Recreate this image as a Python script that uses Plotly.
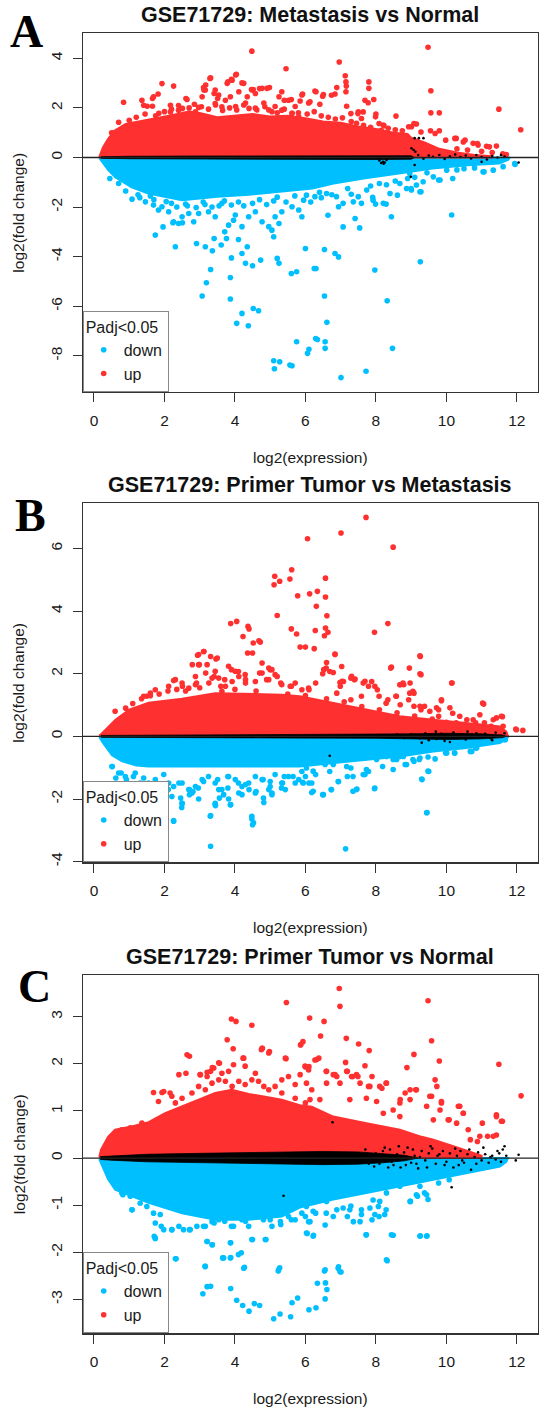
import plotly.graph_objects as go

RED = "#FF3030"
BLUE = "#00BFFF"
BLACK = "#000000"
FONT = "Liberation Sans"

X_TICKS = [0, 2, 4, 6, 8, 10, 12]
A_Y_TICKS = [-8, -6, -4, -2, 0, 2, 4]
B_Y_TICKS = [-4, -2, 0, 2, 4, 6]
C_Y_TICKS = [-3, -2, -1, 0, 1, 2, 3]

TITLES = ["GSE71729: Metastasis vs Normal",
          "GSE71729: Primer Tumor vs Metastasis",
          "GSE71729: Primer Tumor vs Normal"]
LETTERS = ["A", "B", "C"]
X_LABEL = "log2(expression)"
Y_LABEL = "log2(fold change)"
LEGEND_TITLE = "Padj<0.05"
LEGEND_NAMES = ["down", "up"]

# ---------------- Panel A ----------------
A_UP_ENV = [(0.15, 0.02), (0.25, 0.4), (0.4, 0.75), (0.6, 1.1), (0.9, 1.35), (1.3, 1.45), (1.7, 1.55),
            (2.2, 1.7), (2.7, 1.85), (3.0, 1.8), (3.5, 1.62), (4.0, 1.7), (4.5, 1.75), (5.0, 1.65),
            (5.5, 1.68), (6.0, 1.58), (6.5, 1.45), (7.0, 1.4), (7.5, 1.25), (8.0, 1.15), (8.5, 1.0),
            (8.9, 0.95), (9.0, 0.8), (9.4, 0.6), (9.8, 0.35), (10.3, 0.2), (10.8, 0.1), (11.3, 0.05)]
A_DOWN_ENV = [(0.15, -0.02), (0.26, -0.25), (0.4, -0.5), (0.6, -0.8), (1.07, -1.2), (1.54, -1.45),
              (2.0, -1.58), (2.5, -1.72), (3.0, -1.65), (3.5, -1.58), (4.4, -1.5), (5.3, -1.37),
              (6.2, -1.25), (6.8, -1.05), (7.7, -0.84), (8.7, -0.64), (9.6, -0.44), (10.6, -0.31),
              (11.5, -0.24), (11.75, -0.1), (11.8, -0.02)]
A_NS_BAND = [(0.2, 0.03), (1.0, 0.05), (3.0, 0.06), (5.0, 0.06), (7.0, 0.07), (8.0, 0.08), (9.0, 0.07), (9.1, 0.0)]
A_UP_PTS = [(4.48, 4.29), (9.48, 4.45), (6.96, 3.85), (5.45, 3.58), (4.02, 3.33), (3.31, 3.21), (3.80, 3.05),
            (3.90, 3.15), (4.20, 3.01), (1.93, 2.98), (2.26, 2.88), (7.13, 3.30), (7.15, 3.05), (7.16, 2.88),
            (7.15, 2.65), (7.80, 3.05), (7.80, 2.79), (7.94, 2.34), (7.78, 2.21), (9.56, 2.69), (11.49, 1.95),
            (12.11, 1.12), (0.84, 2.23), (9.56, 1.80), (9.80, 1.80), (11.42, 0.46), (8.57, 1.67), (8.21, 1.31),
            (3.11, 2.82), (3.16, 2.72), (3.41, 2.58), (3.51, 2.38), (4.47, 2.74), (4.52, 2.74), (4.70, 2.78),
            (4.98, 2.82), (5.25, 2.45), (5.40, 2.31), (5.60, 2.34), (5.85, 2.28), (5.92, 2.56), (6.27, 2.68),
            (6.51, 2.54), (6.84, 2.56), (6.13, 2.25), (6.41, 2.15), (6.89, 2.82), (7.69, 2.31), (2.61, 2.38),
            (2.51, 1.98), (1.66, 2.38), (1.36, 2.31), (1.51, 2.07), (9.01, 1.24), (9.15, 1.35), (9.28, 1.03),
            (9.55, 1.08), (9.80, 1.08), (10.24, 0.77), (10.48, 0.63), (10.76, 0.57), (10.90, 0.50),
            (11.14, 0.45), (9.68, 0.97), (9.98, 0.70), (7.17, 2.07), (7.50, 1.84), (7.64, 1.84), (8.0, 1.75),
            (7.59, 1.57), (8.09, 1.37), (10.3, 0.35), (10.6, 0.3), (11.0, 0.25), (11.3, 0.2), (11.6, 0.15),
            (11.7, 0.12), (0.5, 1.0), (0.7, 1.42), (1.0, 1.5), (1.2, 1.62), (1.45, 1.75), (1.75, 1.68),
            (2.0, 1.85), (2.2, 1.95), (2.4, 2.1), (2.7, 2.0), (2.85, 2.15), (3.05, 2.05), (3.25, 1.95),
            (3.45, 2.12), (3.65, 1.9), (3.85, 2.0), (4.05, 1.92), (4.25, 2.12), (4.4, 1.98), (4.62, 1.92),
            (4.85, 2.05), (5.05, 1.85), (5.2, 1.8), (5.4, 1.95), (5.62, 1.78), (5.8, 1.8), (6.05, 1.75),
            (6.25, 1.85), (6.45, 1.68), (6.65, 1.62), (6.85, 1.55), (7.05, 1.6), (7.3, 1.45), (7.45, 1.38),
            (7.65, 1.3), (7.85, 1.22), (8.15, 1.1), (8.35, 1.18), (8.55, 1.12), (8.75, 1.08),
            (0.56, 1.0), (1.41, 2.11), (1.69, 2.45), (1.66, 2.07), (1.82, 2.56), (1.84, 1.78), (2.17, 1.84),
            (2.40, 1.91), (2.50, 1.64), (2.69, 1.78), (2.88, 1.84), (2.97, 2.02), (2.17, 2.11), (2.64, 2.34),
            (3.07, 2.45), (3.12, 2.72), (3.17, 2.92), (3.29, 3.19), (3.44, 2.72), (3.54, 2.52), (3.73, 2.31),
            (3.87, 2.45), (3.44, 2.18), (3.63, 2.04), (3.78, 2.99), (3.92, 3.12), (4.04, 3.36), (4.25, 2.99),
            (4.11, 2.65), (4.35, 2.45), (4.49, 2.72), (4.58, 2.58), (4.77, 2.79), (4.91, 2.79), (4.02, 2.06),
            (4.30, 2.20), (4.58, 1.99), (4.82, 2.20), (4.96, 1.92), (5.14, 2.06), (5.33, 1.91), (5.52, 2.31),
            (5.71, 2.06), (5.90, 2.52), (6.09, 2.20), (5.33, 2.65), (5.62, 1.78), (5.81, 1.64),
            (6.30, 2.65), (6.49, 2.47), (6.74, 2.51), (7.29, 1.77), (7.49, 1.77), (7.99, 1.64), (8.23, 1.28),
            (8.93, 1.24), (9.08, 1.37), (10.28, 0.77), (10.53, 0.70), (10.88, 0.56), (11.22, 0.43)]
A_DOWN_PTS = [(11.95, -0.28), (10.15, -2.32), (9.26, -4.21), (8.47, -7.70), (8.32, -5.78), (7.72, -8.62),
              (7.97, -4.54), (7.01, -8.88), (6.94, -4.01), (6.84, -3.87), (6.56, -7.70), (6.56, -7.43),
              (6.61, -6.65), (6.54, -5.59), (6.54, -3.71), (6.29, -7.30), (6.34, -7.34), (6.10, -7.74),
              (6.06, -7.90), (5.75, -7.43), (5.56, -8.37), (5.62, -8.40), (5.10, -8.20), (5.27, -8.24),
              (5.12, -8.52), (5.60, -4.68), (5.75, -4.61), (6.25, -4.48), (6.30, -4.48), (6.00, -3.67),
              (5.20, -4.07), (5.25, -4.27), (4.73, -4.14), (4.50, -4.37), (4.30, -4.27), (4.35, -3.60),
              (4.20, -3.87), (4.10, -3.31), (3.90, -4.05), (3.87, -4.84), (3.87, -5.71), (3.31, -4.52),
              (3.19, -5.05), (3.07, -5.59), (4.52, -6.09), (4.67, -6.18), (4.20, -6.29), (4.05, -6.69),
              (4.38, -6.79), (2.31, -3.60), (1.74, -3.13), (1.08, -1.68), (1.96, -2.80), (2.24, -2.63),
              (2.51, -2.63), (2.91, -3.47), (3.16, -3.60), (3.36, -3.76), (3.61, -3.53), (3.41, -3.27),
              (3.71, -3.0), (3.76, -3.27), (3.96, -2.53), (5.05, -2.93), (5.10, -3.20), (5.25, -2.66),
              (7.07, -2.80), (7.54, -2.84), (7.41, -2.46), (6.64, -2.33), (6.94, -1.99), (8.44, -2.39),
              (8.29, -1.88), (7.99, -1.88), (7.91, -1.61), (8.61, -1.52), (9.0, -1.25), (9.28, -1.38),
              (8.96, -0.65), (9.78, -0.91), (10.18, -0.85), (11.07, -0.58),
              (1.46, -1.79), (1.69, -1.92), (1.83, -2.12), (1.93, -1.99), (2.12, -2.19), (2.26, -2.59),
              (2.40, -2.66), (2.50, -2.39), (2.69, -2.26), (2.83, -2.59), (2.97, -2.26), (3.25, -2.19),
              (3.44, -2.39), (3.63, -1.85), (3.82, -2.73), (4.01, -2.32), (4.20, -2.79), (4.39, -2.39),
              (4.58, -2.19), (4.77, -2.59), (4.96, -2.79), (5.14, -2.39), (5.33, -2.19), (5.62, -1.99),
              (5.81, -2.12), (5.90, -2.39),
              (6.03, -1.52), (6.27, -1.58), (6.60, -1.45), (6.88, -1.58), (7.07, -1.85), (7.36, -1.79),
              (7.50, -1.58), (7.59, -1.85), (7.74, -1.31), (7.92, -1.72), (8.21, -1.85), (8.40, -1.45),
              (8.68, -1.05), (8.87, -1.25), (9.01, -1.31), (9.15, -1.11), (9.25, -1.38), (9.34, -0.98),
              (9.63, -0.78), (9.82, -0.91), (10.01, -0.51), (11.04, -0.58), (11.33, -0.51), (11.61, -0.37),
              (11.94, -0.24),
              (0.45, -0.85), (0.7, -1.05), (0.9, -1.35), (1.25, -1.5), (1.7, -1.7), (2.2, -1.85),
              (2.65, -1.95), (3.15, -1.9), (3.7, -1.75), (4.1, -1.8), (4.7, -1.7), (5.2, -1.6), (5.7, -1.55),
              (6.4, -1.4), (7.2, -1.25), (8.1, -1.05), (8.9, -0.85), (10.3, -0.5), (10.8, -0.42),
              (1.3, -1.62), (1.6, -1.55), (2.05, -1.78), (2.35, -2.0), (2.6, -1.88), (2.9, -2.02), (3.1, -1.8),
              (3.35, -2.0), (3.55, -1.95), (3.9, -1.92), (4.25, -1.95), (4.5, -1.85), (4.9, -1.9), (5.1, -1.75),
              (5.45, -1.8), (5.95, -1.72), (6.15, -1.8), (6.45, -1.62), (6.75, -1.5), (7.3, -1.48),
              (7.85, -1.15), (8.3, -1.1), (8.55, -0.95), (9.1, -0.8), (9.45, -0.62), (10.5, -0.45)]
A_NS_PTS = [(8.1, -0.12), (8.2, -0.17), (8.25, -0.2), (8.3, -0.1), (9.01, 0.37), (9.07, 0.3), (9.12, 0.23),
            (9.1, 0.78), (9.22, 0.78), (9.35, 0.78), (9.2, 0.1), (9.35, -0.05), (9.5, 0.08), (9.62, 0.03),
            (9.8, 0.1), (9.95, -0.06), (10.1, 0.05), (10.25, 0.12), (10.4, 0.02), (10.55, 0.08), (10.7, -0.04),
            (10.85, 0.1), (11.0, 0.02), (11.15, -0.08), (11.3, 0.06), (11.45, 0.0), (11.55, 0.1), (11.65, 0.04),
            (8.99, -0.78), (11.0, -0.17), (12.05, -0.2), (9.1, -0.3), (8.15, -0.22), (8.22, -0.25)]

# ---------------- Panel B ----------------
B_UP_ENV = [(0.15, 0.02), (0.23, 0.1), (0.61, 0.53), (1.0, 0.85), (1.55, 1.07), (2.5, 1.2), (3.44, 1.38),
            (4.4, 1.35), (5.33, 1.33), (5.84, 1.28), (6.79, 1.07), (7.73, 0.85), (8.68, 0.64), (9.63, 0.53),
            (10.57, 0.43), (11.52, 0.32), (11.7, 0.15), (11.75, 0.02)]
B_DOWN_ENV = [(0.15, -0.02), (0.25, -0.2), (0.51, -0.6), (0.8, -0.8), (1.2, -0.93), (1.55, -0.96),
              (5.84, -0.96), (6.79, -0.85), (7.73, -0.74), (8.68, -0.64), (9.63, -0.48), (10.57, -0.37),
              (11.52, -0.21), (11.7, -0.1), (11.75, -0.02)]
B_NS_BAND = [(0.2, 0.03), (2.0, 0.04), (5.0, 0.05), (8.0, 0.06), (9.0, 0.08), (10.0, 0.1), (11.0, 0.08),
             (11.6, 0.04), (11.7, 0.0)]
B_UP_PTS = [(7.72, 6.99), (7.01, 6.49), (6.06, 6.31), (8.49, 6.04), (5.61, 5.32), (5.13, 5.11), (5.11, 4.84),
            (5.27, 4.95), (5.56, 5.02), (6.57, 5.05), (5.78, 4.49), (6.12, 4.55), (6.34, 4.63), (6.57, 4.45),
            (6.31, 4.15), (6.61, 3.85), (5.20, 3.86), (3.88, 3.60), (4.05, 3.67), (4.37, 3.51), (4.40, 3.43),
            (4.23, 3.19), (4.52, 2.98), (4.68, 3.05), (4.72, 3.01), (4.36, 2.66), (4.50, 2.66), (5.60, 3.43),
            (5.75, 3.27), (6.28, 3.38), (6.57, 3.46), (6.64, 3.32), (6.54, 3.21), (5.85, 2.85), (6.00, 2.85),
            (6.25, 2.80), (6.84, 2.63), (8.34, 3.60), (7.96, 3.32), (9.26, 2.55), (8.95, 2.18), (9.28, 1.97),
            (8.44, 2.21), (10.16, 1.70), (11.06, 1.03), (9.86, 1.14), (11.59, 0.63), (11.42, 0.59),
            (11.97, 0.23), (12.17, 0.19), (3.11, 2.71), (2.94, 2.59), (2.99, 2.29), (3.31, 2.55), (3.46, 2.47),
            (2.79, 2.29), (2.26, 1.78), (1.49, 1.28), (6.59, 2.18), (6.69, 2.07), (6.49, 2.0), (6.99, 1.6),
            (7.04, 1.76), (7.29, 1.86), (7.39, 1.81), (7.69, 1.76), (7.79, 1.6), (8.04, 1.49), (8.09, 1.28),
            (8.69, 1.65), (8.79, 1.65), (8.57, 1.28), (8.34, 1.17), (9.08, 1.38), (8.93, 1.17), (9.38, 0.96),
            (9.53, 0.8), (9.78, 0.85), (4.30, 1.70), (4.10, 2.07), (3.90, 2.13), (4.30, 1.81), (4.70, 2.02),
            (5.0, 2.13), (4.90, 1.81), (5.20, 1.91), (5.30, 1.70), (10.18, 0.74), (10.38, 0.64), (10.58, 0.53),
            (10.83, 0.43), (10.28, 0.43), (2.51, 1.60), (2.91, 1.70), (3.41, 1.91), (3.71, 1.81), (5.60, 1.60),
            (6.10, 1.49), (6.29, 1.70), (6.89, 1.38), (7.29, 1.17), (7.59, 1.28), (8.29, 1.06), (8.69, 1.01),
            (9.08, 0.96), (9.28, 0.85), (9.78, 0.64), (11.27, 0.32), (11.08, 0.43),
            (0.6, 0.8), (0.9, 0.9), (1.1, 1.05), (1.35, 1.2), (1.6, 1.3), (1.85, 1.35), (2.1, 1.45),
            (2.35, 1.5), (2.6, 1.45), (3.0, 1.55), (3.6, 1.6), (4.0, 1.5), (4.6, 1.45), (5.5, 1.35),
            (6.0, 1.3), (6.6, 1.2), (7.1, 1.1), (7.6, 0.95), (8.1, 0.85), (8.6, 0.75), (9.1, 0.65),
            (9.6, 0.55), (10.0, 0.45), (10.5, 0.38), (11.0, 0.3), (11.4, 0.25),
            (2.97, 2.61), (3.12, 2.71), (3.50, 2.50), (2.97, 2.29), (3.21, 2.29), (2.88, 1.91), (3.17, 2.02),
            (3.35, 1.86), (3.26, 1.70), (3.44, 2.08), (3.54, 1.86), (2.31, 1.81), (2.50, 1.70), (2.69, 1.54),
            (2.88, 1.65), (1.74, 1.49), (1.60, 1.38), (1.41, 1.28), (2.12, 1.60), (3.82, 2.24), (4.01, 2.08),
            (4.11, 1.91), (3.92, 1.75), (3.73, 1.60), (3.63, 1.44), (4.29, 1.97), (4.58, 1.75), (4.77, 2.02),
            (4.96, 1.81), (5.05, 2.13), (5.14, 1.97), (5.33, 1.65), (5.57, 1.60), (5.71, 1.70), (5.90, 1.49),
            (6.09, 1.54), (4.77, 2.34), (4.96, 2.18), (6.84, 2.61), (6.60, 2.36), (7.03, 2.23), (6.52, 2.13),
            (6.79, 2.04), (9.25, 2.57), (9.25, 2.0), (8.42, 2.18), (8.97, 1.70), (10.15, 1.70), (11.03, 1.06),
            (11.56, 0.64), (11.99, 0.21), (7.31, 1.92), (7.41, 1.83), (6.98, 1.72), (7.08, 1.75), (7.64, 1.70),
            (7.88, 1.75), (7.97, 1.60), (8.68, 1.65), (8.77, 1.70), (8.58, 1.28), (8.96, 1.38), (9.05, 1.44),
            (9.86, 1.17), (9.25, 0.96), (9.72, 0.91), (10.10, 0.91), (10.76, 0.53), (10.95, 0.69),
            (11.33, 0.53), (11.61, 0.32)]
B_DOWN_PTS = [(3.56, -1.97), (3.68, -1.86), (3.88, -2.18), (4.82, -2.11), (5.05, -1.86), (4.30, -1.54),
              (4.40, -1.70), (4.60, -1.76), (4.20, -1.86), (6.18, -1.79), (6.49, -1.86), (6.73, -1.70),
              (7.46, -1.68), (7.96, -1.67), (5.32, -1.65), (5.35, -1.49), (5.92, -1.47), (6.94, -1.44),
              (7.19, -1.28), (7.79, -1.12), (7.69, -1.22), (8.83, -0.90), (9.08, -0.80), (9.23, -0.74),
              (9.68, -0.72), (9.98, -0.53), (10.23, -0.53), (10.68, -0.48), (10.83, -0.37), (11.22, -0.16),
              (11.67, -0.11), (0.52, -0.96), (0.77, -1.17), (0.62, -1.33), (0.92, -1.38), (1.12, -1.28),
              (1.31, -1.49), (1.61, -1.60), (1.91, -1.54), (2.11, -1.70), (2.41, -1.49), (2.71, -1.70),
              (2.96, -1.65), (3.11, -1.44), (3.51, -1.38), (3.80, -1.28), (2.46, -1.97), (2.81, -1.76),
              (2.71, -1.86), (4.50, -2.82), (4.48, -2.64), (3.31, -2.53), (3.45, -2.21), (3.31, -3.51),
              (7.14, -3.59), (9.45, -2.43), (9.31, -1.38), (9.50, -1.12), (2.26, -2.69), (2.49, -2.27),
              (1.96, -3.32), (5.90, -1.12), (5.65, -1.28), (6.10, -1.49), (5.0, -1.44), (4.80, -1.38),
              (4.10, -1.49), (3.80, -1.65), (5.0, -1.60), (5.40, -1.28), (6.29, -1.22), (6.69, -1.12),
              (7.29, -1.01), (8.19, -0.96), (8.49, -1.06), (8.59, -0.74), (8.78, -0.64),
              (0.51, -0.96), (0.70, -1.17), (0.89, -1.28), (1.17, -1.17), (1.41, -1.33), (1.55, -1.49),
              (1.74, -1.38), (1.98, -1.22), (2.12, -1.49), (2.26, -1.60), (2.50, -1.49), (2.69, -1.70),
              (2.88, -1.60), (3.07, -1.38), (3.25, -1.28), (3.44, -1.49), (3.63, -1.70), (3.82, -1.28),
              (4.01, -1.38), (4.20, -1.60), (4.39, -1.49), (4.58, -1.28), (4.77, -1.38), (4.96, -1.70),
              (5.14, -1.22), (5.33, -1.49), (5.52, -1.28), (5.81, -1.38), (6.00, -1.28), (6.18, -1.49),
              (2.21, -1.92), (2.50, -2.14), (2.78, -1.81), (2.97, -2.0), (3.44, -2.14), (3.54, -1.70),
              (3.82, -2.0), (4.11, -1.81), (4.58, -1.81), (4.81, -1.97), (5.05, -1.81), (5.43, -1.70),
              (5.71, -1.49), (2.26, -2.71), (2.50, -2.14), (3.30, -2.55), (3.44, -2.18), (4.48, -2.55),
              (4.53, -2.76), (3.87, -2.18),
              (5.94, -1.49), (6.22, -1.75), (6.51, -1.86), (6.74, -1.70), (7.35, -1.75), (7.45, -1.70),
              (7.97, -1.65), (6.93, -1.44), (7.35, -1.28), (7.64, -1.22), (7.73, -1.06), (7.17, -0.96),
              (6.79, -0.90), (6.56, -0.90), (6.22, -1.11), (6.03, -1.01), (9.30, -1.36), (9.48, -1.11),
              (9.44, -2.44), (8.87, -0.90), (9.05, -0.74), (9.25, -0.69), (9.48, -0.66), (10.01, -0.53),
              (10.24, -0.53), (10.72, -0.48), (10.86, -0.37), (11.23, -0.12), (11.66, -0.10), (8.02, -0.74),
              (8.30, -0.64), (8.49, -0.74), (8.68, -0.64)]
B_NS_PTS = [(6.69, -0.62), (9.1, 0.05), (9.25, -0.06), (9.4, 0.1), (9.5, -0.12), (9.6, 0.04), (9.72, -0.08),
            (9.85, 0.08), (9.95, -0.15), (10.05, 0.03), (10.2, 0.12), (10.3, -0.05), (10.45, 0.07),
            (10.55, -0.1), (10.7, 0.05), (10.85, 0.1), (10.95, -0.04), (11.1, 0.08), (11.25, -0.06),
            (11.4, 0.12), (11.55, 0.02), (11.65, 0.1), (9.3, -0.2), (8.6, 0.06), (8.8, -0.05), (9.0, 0.07),
            (9.7, 0.15), (10.1, -0.18), (10.6, 0.15), (11.3, -0.12)]

# ---------------- Panel C ----------------
C_UP_ENV = [(0.15, 0.02), (0.2, 0.18), (0.4, 0.45), (0.6, 0.6), (1.07, 0.67), (1.55, 0.76), (2.02, 0.95),
            (2.5, 1.09), (2.97, 1.24), (3.44, 1.38), (3.91, 1.45), (4.39, 1.36), (5.33, 1.24), (5.84, 1.12),
            (6.18, 1.09), (6.79, 0.88), (7.73, 0.74), (8.68, 0.6), (9.3, 0.45), (9.63, 0.39), (10.2, 0.25),
            (10.6, 0.15), (11.0, 0.05)]
C_DOWN_ENV = [(0.15, -0.02), (0.25, -0.2), (0.4, -0.45), (0.6, -0.67), (1.07, -0.81), (1.55, -0.95),
              (2.5, -1.17), (3.44, -1.31), (4.39, -1.31), (5.33, -1.24), (5.84, -1.05), (6.79, -0.88),
              (7.73, -0.74), (8.68, -0.60), (9.63, -0.46), (10.57, -0.32), (11.52, -0.18), (11.7, -0.08),
              (11.75, -0.02)]
C_NS_BAND = [(0.18, 0.03), (0.6, 0.05), (1.5, 0.08), (3.0, 0.1), (5.0, 0.12), (6.5, 0.14), (7.5, 0.13),
             (8.2, 0.1), (8.8, 0.06), (9.2, 0.0)]
C_UP_PTS = [(6.96, 3.60), (6.98, 3.22), (5.46, 3.30), (9.48, 3.34), (3.90, 2.95), (4.03, 2.90), (6.12, 2.97),
            (6.53, 2.90), (4.48, 2.82), (6.43, 2.59), (9.58, 2.49), (7.16, 2.54), (7.51, 2.42), (3.78, 2.51),
            (4.78, 2.33), (4.75, 2.30), (4.98, 2.26), (5.93, 2.47), (5.86, 2.40), (3.95, 2.32), (7.81, 2.28),
            (2.64, 2.19), (2.71, 2.16), (9.08, 2.20), (9.80, 2.06), (11.49, 1.99), (8.88, 1.92), (12.12, 1.32),
            (5.45, 2.11), (4.23, 2.12), (3.36, 1.92), (3.56, 2.01), (3.31, 1.84), (2.41, 1.77), (2.61, 1.80),
            (3.01, 1.77), (3.21, 1.73), (6.38, 2.12), (6.27, 2.08), (6.10, 1.94), (6.0, 1.93), (6.59, 1.84),
            (6.84, 1.77), (6.89, 1.73), (7.14, 2.03), (7.19, 1.84), (7.34, 1.73), (7.49, 1.73), (7.69, 1.96),
            (7.89, 1.73), (7.79, 1.52), (8.29, 1.59), (8.17, 1.48), (9.13, 1.45), (8.83, 1.38), (8.69, 1.24),
            (9.86, 1.17), (10.38, 1.10), (10.08, 0.81), (10.48, 0.95), (11.02, 0.74), (11.42, 0.92),
            (11.59, 0.78), (11.42, 0.49), (9.68, 1.66), (9.73, 1.52), (9.58, 1.31), (1.69, 1.39), (1.93, 1.39),
            (2.16, 1.38), (2.21, 1.31), (10.88, 0.35), (10.68, 0.39), (11.17, 0.46),
            (3.02, 1.77), (3.21, 1.82), (3.40, 1.91), (3.54, 2.02), (3.63, 1.80), (3.82, 1.84), (3.96, 1.98),
            (4.25, 2.12), (4.29, 1.95), (4.58, 1.80), (4.77, 2.33), (4.96, 2.23), (5.43, 2.12), (5.87, 2.41),
            (1.98, 1.41), (1.83, 1.20), (2.31, 1.17), (2.50, 1.27), (2.78, 1.38), (2.97, 1.52), (3.16, 1.45),
            (3.35, 1.59), (3.54, 1.66), (3.73, 1.63), (3.92, 1.52), (4.11, 1.63), (4.29, 1.56), (4.48, 1.66),
            (4.67, 1.63), (4.82, 1.52), (4.96, 1.45), (5.14, 1.52), (5.33, 1.66), (5.52, 1.73), (5.71, 1.56),
            (5.85, 1.77), (6.09, 1.87), (6.18, 1.45), (5.33, 1.38), (5.71, 1.27), (6.00, 1.17),
            (0.79, 0.6), (1.03, 0.64), (1.36, 0.74), (0.60, 0.53),
            (5.99, 1.95), (6.32, 2.09), (6.60, 1.84), (6.79, 1.77), (7.17, 1.84), (7.31, 1.73), (7.45, 1.77),
            (6.60, 1.59), (6.98, 1.59), (7.55, 1.59), (7.83, 1.52), (8.11, 1.52), (8.30, 1.59), (8.97, 1.45),
            (9.15, 1.45), (8.68, 1.17), (8.97, 1.24), (9.53, 1.31), (9.86, 1.20), (10.34, 1.10), (10.48, 0.95),
            (10.62, 0.60), (10.95, 0.46), (11.42, 0.88), (11.56, 0.78), (11.33, 0.46), (6.03, 1.59),
            (6.13, 1.24), (6.41, 1.24), (7.73, 1.27), (7.26, 1.24), (8.02, 1.20), (8.21, 0.95), (8.49, 1.02),
            (8.68, 0.88), (9.44, 1.10), (9.82, 1.02), (10.05, 0.81), (10.29, 0.74), (9.63, 0.81)]
C_DOWN_PTS = [(5.10, -3.41), (5.28, -3.31), (5.58, -3.37), (4.40, -3.25), (4.22, -3.13), (4.05, -3.02),
              (4.55, -3.09), (4.70, -3.13), (3.09, -2.88), (3.21, -2.73), (3.31, -2.72), (3.88, -2.77),
              (5.62, -3.07), (5.78, -2.97), (6.10, -3.22), (6.30, -3.18), (6.56, -2.99), (6.61, -2.79),
              (6.57, -2.65), (6.34, -2.66), (6.54, -2.40), (5.23, -2.40), (5.27, -2.33), (6.94, -2.31),
              (7.01, -2.42), (3.15, -2.30), (4.27, -2.32), (2.31, -2.14), (3.65, -2.12), (3.88, -2.11),
              (4.18, -2.01), (3.88, -1.80), (3.21, -1.77), (3.36, -1.84), (4.50, -1.73), (4.88, -1.73),
              (8.32, -2.18), (8.49, -1.64), (7.72, -1.63), (9.26, -1.65), (9.45, -1.65), (6.05, -1.60),
              (6.23, -1.64), (1.71, -1.66), (1.74, -1.71), (1.08, -1.10), (0.54, -0.42), (0.72, -0.60),
              (0.82, -0.78), (1.91, -1.45), (2.21, -1.52), (2.41, -1.45), (2.71, -1.52),
              (3.11, -1.45), (3.41, -1.38), (3.71, -1.34), (3.90, -1.45), (4.30, -1.34), (4.70, -1.24),
              (5.0, -1.31), (5.30, -1.41), (5.60, -1.31), (6.0, -1.24), (6.29, -1.17), (6.59, -1.17),
              (6.89, -1.10), (7.19, -1.24), (7.29, -1.02), (7.59, -1.10), (7.89, -1.31), (8.09, -1.24),
              (8.29, -1.10), (8.98, -0.92), (9.18, -0.81), (9.38, -0.74), (9.48, -0.88), (9.78, -0.53),
              (10.08, -0.46), (10.28, -0.32), (10.68, -0.25), (11.08, -0.18),
              (0.56, -0.42), (0.65, -0.60), (0.79, -0.74), (1.03, -0.81), (1.08, -1.10), (1.31, -0.96),
              (1.50, -1.03), (1.69, -1.17), (1.88, -1.20), (1.74, -1.38), (1.98, -1.52), (2.21, -1.52),
              (2.54, -1.52), (2.73, -1.52), (2.92, -1.45), (3.16, -1.45), (3.35, -1.35), (3.54, -1.31),
              (3.82, -1.20), (3.96, -1.45), (4.20, -1.31), (4.39, -1.45), (4.58, -1.20), (4.81, -1.31),
              (5.05, -1.45), (5.29, -1.35), (5.52, -1.24), (5.71, -1.31), (5.90, -1.17), (6.09, -1.35),
              (1.74, -1.70), (3.21, -1.77), (3.35, -1.84), (3.87, -1.80), (4.48, -1.73), (4.86, -1.73),
              (2.33, -2.14), (3.16, -2.30), (3.68, -2.12), (3.87, -2.12), (4.10, -2.05), (4.25, -2.34),
              (5.24, -2.37),
              (6.03, -1.03), (6.22, -1.13), (6.13, -1.35), (6.60, -0.92), (6.79, -1.24), (7.07, -1.06),
              (7.26, -1.10), (7.36, -1.35), (7.55, -1.35), (7.59, -1.20), (7.83, -1.06), (7.97, -1.20),
              (8.07, -1.03), (8.25, -1.20), (7.92, -0.89), (8.11, -0.92), (8.30, -0.74), (8.68, -0.60),
              (9.15, -0.78), (9.44, -0.78), (9.25, -0.60), (8.97, -0.92), (6.03, -1.59), (6.22, -1.66),
              (6.56, -1.42), (7.73, -1.63), (8.44, -1.63), (9.25, -1.66), (9.44, -1.66), (8.30, -2.16),
              (6.56, -2.37), (6.93, -2.34), (6.98, -2.41)]
C_NS_PTS = [(8.0, 0.1), (8.1, -0.12), (8.2, 0.15), (8.3, -0.05), (8.4, 0.18), (8.5, -0.15), (8.6, 0.08),
            (8.7, -0.2), (8.8, 0.12), (8.9, 0.22), (9.0, -0.1), (9.1, 0.05), (9.2, -0.22), (9.3, 0.15),
            (9.4, -0.05), (9.5, 0.1), (9.6, 0.2), (9.7, -0.12), (9.8, 0.08), (9.9, 0.15), (10.0, -0.08),
            (10.1, 0.1), (10.2, -0.2), (10.3, 0.05), (10.4, 0.15), (10.5, -0.1), (10.6, 0.08), (10.7, -0.25),
            (10.8, 0.02), (10.9, 0.12), (11.0, -0.05), (11.1, 0.08), (11.2, -0.1), (11.3, 0.05), (11.4, -0.03),
            (11.5, 0.1), (11.6, 0.18), (11.7, 0.05), (11.97, -0.05), (12.05, 0.07), (10.15, -0.62),
            (6.77, 0.76), (5.38, -0.80), (7.5, 0.1), (7.8, -0.12), (6.5, 0.1), (7.2, -0.1),
            (7.7, 0.18), (7.95, -0.18), (8.25, 0.22), (8.45, -0.08), (8.65, 0.25), (8.85, -0.15), (9.05, 0.18),
            (9.25, 0.02), (9.45, -0.2), (9.55, 0.25), (9.75, 0.05), (9.95, -0.15), (10.25, 0.2), (10.45, -0.05),
            (10.65, 0.18), (10.85, -0.12), (11.05, 0.22), (11.25, 0.02), (11.45, 0.15), (11.55, -0.08),
            (11.65, 0.25), (10.35, -0.15), (9.15, -0.12), (8.35, -0.2)]

# ---------------- layout geometry ----------------
W, H = 550, 1414
X_DOMAIN = [82.7 / W, 538 / W]
PANELS = [
    dict(top=33.3, bottom=392.0, xr=[-0.32, 12.6], yr=[-9.46, 5.01], yt=A_Y_TICKS,
         up_env=A_UP_ENV, down_env=A_DOWN_ENV, band=A_NS_BAND, up=A_UP_PTS, down=A_DOWN_PTS, ns=A_NS_PTS,
         letter_xy=(26, 31)),
    dict(top=503.3, bottom=862.3, xr=[-0.32, 12.6], yr=[-4.02, 7.44], yt=B_Y_TICKS,
         up_env=B_UP_ENV, down_env=B_DOWN_ENV, band=B_NS_BAND, up=B_UP_PTS, down=B_DOWN_PTS, ns=B_NS_PTS,
         letter_xy=(30, 516)),
    dict(top=975.0, bottom=1333.3, xr=[-0.32, 12.6], yr=[-3.72, 3.885], yt=C_Y_TICKS,
         up_env=C_UP_ENV, down_env=C_DOWN_ENV, band=C_NS_BAND, up=C_UP_PTS, down=C_DOWN_PTS, ns=C_NS_PTS,
         letter_xy=(35, 986)),
]

fig = go.Figure()
annotations = []
shapes = []
layout_axes = {}


def py(px):
    return 1 - px / H


for i, p in enumerate(PANELS):
    n = i + 1
    xa = "x" if n == 1 else f"x{n}"
    ya = "y" if n == 1 else f"y{n}"
    lg = "legend" if n == 1 else f"legend{n}"
    common = dict(xaxis=xa, yaxis=ya, hoverinfo="skip")

    dx = [q[0] for q in p["down_env"]]
    dy = [q[1] for q in p["down_env"]]
    fig.add_trace(go.Scatter(x=dx + dx[::-1], y=dy + [0] * len(dx), mode="lines", fill="toself",
                             fillcolor=BLUE, line=dict(width=2, color=BLUE), showlegend=False, **common))
    ux = [q[0] for q in p["up_env"]]
    uy = [q[1] for q in p["up_env"]]
    fig.add_trace(go.Scatter(x=ux + ux[::-1], y=uy + [0] * len(ux), mode="lines", fill="toself",
                             fillcolor=RED, line=dict(width=2, color=RED), showlegend=False, **common))
    fig.add_trace(go.Scatter(x=[q[0] for q in p["down"]], y=[q[1] for q in p["down"]], mode="markers",
                             marker=dict(color=BLUE, size=5.6, line=dict(width=0)), name=LEGEND_NAMES[0],
                             legend=lg, **common))
    fig.add_trace(go.Scatter(x=[q[0] for q in p["up"]], y=[q[1] for q in p["up"]], mode="markers",
                             marker=dict(color=RED, size=5.6, line=dict(width=0)), name=LEGEND_NAMES[1],
                             legend=lg, **common))
    bx = [q[0] for q in p["band"]]
    bh = [q[1] for q in p["band"]]
    fig.add_trace(go.Scatter(x=bx + bx[::-1], y=bh + [-h for h in bh[::-1]], mode="lines", fill="toself",
                             fillcolor=BLACK, line=dict(width=0.8, color=BLACK), showlegend=False, **common))
    fig.add_trace(go.Scatter(x=[q[0] for q in p["ns"]], y=[q[1] for q in p["ns"]], mode="markers",
                             marker=dict(color=BLACK, size=2.6, line=dict(width=0)), showlegend=False, **common))

    ydom = [py(p["bottom"]), py(p["top"])]
    axis_font = dict(family=FONT, size=15.5, color="#1a1a1a")
    layout_axes["xaxis" if n == 1 else f"xaxis{n}"] = dict(
        domain=X_DOMAIN, range=p["xr"], anchor=ya, tickvals=X_TICKS, ticktext=[str(v) for v in X_TICKS],
        ticks="outside", ticklen=9, tickwidth=1, tickcolor="#333", showline=True, linecolor="#333",
        linewidth=1.2, mirror=True, showgrid=False, zeroline=False, tickfont=axis_font,
        ticklabelstandoff=5, automargin=False, fixedrange=True)
    layout_axes["yaxis" if n == 1 else f"yaxis{n}"] = dict(
        domain=ydom, range=p["yr"], anchor=xa, tickvals=p["yt"], ticktext=[str(v) for v in p["yt"]],
        ticks="outside", ticklen=9, tickwidth=1, tickcolor="#333", showline=True, linecolor="#333",
        linewidth=1.2, mirror=True, showgrid=False, zeroline=False, tickfont=axis_font, tickangle=-90,
        ticklabelstandoff=4, automargin=False, fixedrange=True)

    layout_axes[lg] = dict(
        x=X_DOMAIN[0], y=ydom[0], xanchor="left", yanchor="bottom",
        title=dict(text=LEGEND_TITLE, font=dict(family=FONT, size=16, color="#1a1a1a")),
        font=dict(family=FONT, size=16, color="#1a1a1a"), bgcolor="white", bordercolor="#888",
        borderwidth=1, traceorder="normal", itemsizing="trace", tracegroupgap=0)

    shapes.append(dict(type="line", xref=f"{xa} domain", yref=ya, x0=0, x1=1, y0=0, y1=0,
                       line=dict(color="#222", width=1.3), layer="above"))

    xmid = (X_DOMAIN[0] + X_DOMAIN[1]) / 2
    ymid = (ydom[0] + ydom[1]) / 2
    annotations.append(dict(text=f"<b>{TITLES[i]}</b>", xref="paper", yref="paper", x=xmid,
                            y=py(p["top"] - 18), xanchor="center", yanchor="middle", showarrow=False,
                            font=dict(family=FONT, size=21.5, color="#111")))
    annotations.append(dict(text=X_LABEL, xref="paper", yref="paper", x=xmid, y=py(p["bottom"] + 65),
                            xanchor="center", yanchor="middle", showarrow=False,
                            font=dict(family=FONT, size=15.5, color="#1a1a1a")))
    annotations.append(dict(text=Y_LABEL, xref="paper", yref="paper", x=19 / W, y=ymid, textangle=-90,
                            xanchor="center", yanchor="middle", showarrow=False,
                            font=dict(family=FONT, size=15.5, color="#1a1a1a")))
    lx, ly = p["letter_xy"]
    annotations.append(dict(text=f"<b>{LETTERS[i]}</b>", xref="paper", yref="paper", x=lx / W, y=py(ly),
                            xanchor="center", yanchor="middle", showarrow=False,
                            font=dict(family="Liberation Serif", size=46, color="#000")))

fig.update_layout(width=W, height=H, autosize=False, margin=dict(l=0, r=0, t=0, b=0, autoexpand=False),
                  paper_bgcolor="white", plot_bgcolor="white", annotations=annotations, shapes=shapes,
                  **layout_axes)

fig.write_html("out.html", config={"displayModeBar": False, "staticPlot": True},
               post_script="document.body.style.margin='0px';")
